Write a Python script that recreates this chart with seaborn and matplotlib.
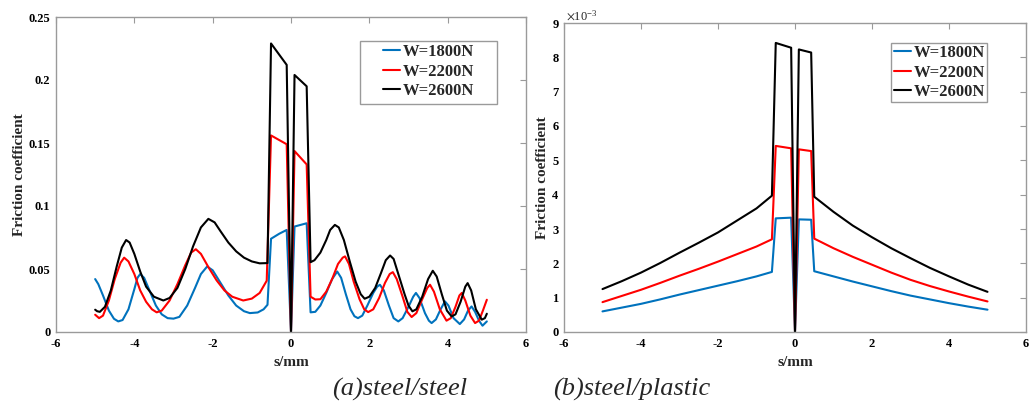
import matplotlib
matplotlib.use("Agg")
import matplotlib.pyplot as plt
from matplotlib.patches import Rectangle
import seaborn as sns
import pandas as pd

# ---------------- data: panel (a) steel/steel ----------------
labels = ["W=1800N", "W=2200N", "W=2600N"]
colors = ["#0072BD", "#FF0000", "#000000"]

a_x_1800 = [-5.0, -4.92, -4.8, -4.65, -4.52, -4.41, -4.3, -4.15, -4.0, -3.92, -3.85, -3.75, -3.6, -3.45,
            -3.3, -3.15, -3.0, -2.85, -2.65, -2.45, -2.3, -2.14, -2.0, -1.8, -1.6, -1.4, -1.2, -1.05,
            -0.85, -0.7, -0.6, -0.51, -0.3, -0.11, 0.0, 0.09, 0.4, 0.5, 0.62, 0.75, 0.9, 1.05, 1.18,
            1.28, 1.4, 1.52, 1.62, 1.71, 1.82, 1.95, 2.1, 2.2, 2.27, 2.37, 2.5, 2.62, 2.74, 2.85, 3.0,
            3.12, 3.19, 3.28, 3.42, 3.52, 3.59, 3.7, 3.82, 3.93, 4.02, 4.15, 4.31, 4.42, 4.52, 4.61,
            4.7, 4.8, 4.89, 5.0]
a_y_1800 = [0.042, 0.038, 0.029, 0.017, 0.0105, 0.0084, 0.0095, 0.018, 0.034, 0.043, 0.046, 0.043, 0.032,
            0.021, 0.014, 0.011, 0.0106, 0.012, 0.021, 0.035, 0.046, 0.052, 0.049, 0.039, 0.029, 0.021,
            0.0165, 0.015, 0.0155, 0.018, 0.0216, 0.074, 0.078, 0.081, 0.0, 0.0837, 0.0863, 0.0156,
            0.016, 0.021, 0.031, 0.042, 0.048, 0.043, 0.030, 0.018, 0.0125, 0.011, 0.013, 0.021, 0.031,
            0.036, 0.0375, 0.033, 0.021, 0.011, 0.0084, 0.011, 0.020, 0.028, 0.031, 0.027, 0.015,
            0.009, 0.0071, 0.010, 0.018, 0.0243, 0.021, 0.011, 0.0063, 0.010, 0.017, 0.0203, 0.016,
            0.009, 0.005, 0.0084]

a_x_2200 = [-5.0, -4.9, -4.8, -4.65, -4.5, -4.35, -4.26, -4.15, -4.0, -3.85, -3.7, -3.55, -3.43, -3.3,
            -3.1, -2.9, -2.7, -2.55, -2.43, -2.3, -2.1, -1.9, -1.7, -1.5, -1.22, -1.0, -0.8, -0.62,
            -0.51, -0.11, 0.0, 0.09, 0.4, 0.5, 0.62, 0.75, 0.9, 1.05, 1.2, 1.32, 1.38, 1.48, 1.6,
            1.75, 1.87, 1.97, 2.1, 2.25, 2.4, 2.52, 2.6, 2.7, 2.85, 2.97, 3.08, 3.2, 3.35, 3.48, 3.55,
            3.65, 3.8, 3.97, 4.08, 4.2, 4.3, 4.36, 4.45, 4.58, 4.7, 4.8, 4.9, 5.0]
a_y_2200 = [0.0137, 0.011, 0.013, 0.025, 0.042, 0.055, 0.059, 0.056, 0.046, 0.033, 0.024, 0.018, 0.0156,
            0.017, 0.025, 0.038, 0.053, 0.063, 0.0657, 0.062, 0.051, 0.041, 0.033, 0.028, 0.025,
            0.0265, 0.031, 0.0407, 0.156, 0.149, 0.0, 0.1436, 0.133, 0.028, 0.0258, 0.026, 0.032,
            0.042, 0.054, 0.059, 0.060, 0.054, 0.040, 0.026, 0.018, 0.0158, 0.018, 0.027, 0.039,
            0.046, 0.0475, 0.042, 0.028, 0.016, 0.0119, 0.015, 0.026, 0.035, 0.0375, 0.032, 0.018,
            0.009, 0.011, 0.020, 0.029, 0.031, 0.025, 0.013, 0.0071, 0.009, 0.017, 0.0256]

a_x_2600 = [-5.0, -4.95, -4.88, -4.75, -4.6, -4.45, -4.32, -4.21, -4.12, -4.0, -3.85, -3.7, -3.5, -3.26,
            -3.1, -2.9, -2.7, -2.5, -2.3, -2.11, -1.95, -1.8, -1.6, -1.4, -1.2, -1.0, -0.8, -0.6,
            -0.51, -0.11, 0.0, 0.09, 0.4, 0.5, 0.6, 0.75, 0.9, 1.0, 1.12, 1.22, 1.35, 1.5, 1.65, 1.78,
            1.88, 2.0, 2.15, 2.3, 2.42, 2.53, 2.62, 2.75, 2.9, 3.0, 3.1, 3.2, 3.35, 3.5, 3.62, 3.72,
            3.85, 3.98, 4.1, 4.2, 4.33, 4.45, 4.51, 4.6, 4.72, 4.87, 4.95, 5.0]
a_y_2600 = [0.0177, 0.0165, 0.016, 0.020, 0.033, 0.052, 0.067, 0.073, 0.071, 0.062, 0.048, 0.036, 0.028,
            0.025, 0.027, 0.035, 0.050, 0.068, 0.083, 0.0898, 0.087, 0.080, 0.071, 0.064, 0.059, 0.056,
            0.0545, 0.0547, 0.229, 0.212, 0.0, 0.204, 0.195, 0.0554, 0.057, 0.063, 0.073, 0.081, 0.085,
            0.083, 0.073, 0.056, 0.040, 0.030, 0.0264, 0.028, 0.035, 0.047, 0.057, 0.0607, 0.058,
            0.045, 0.030, 0.021, 0.0164, 0.018, 0.028, 0.042, 0.0486, 0.044, 0.030, 0.017, 0.0124,
            0.014, 0.024, 0.036, 0.0388, 0.033, 0.018, 0.0098, 0.011, 0.0145]

# ---------------- data: panel (b) steel/plastic (values in units of 1e-3) ----------------
b_x = [-5.0, -4.5, -4.0, -3.5, -3.0, -2.5, -2.0, -1.5, -1.0, -0.6, -0.5, -0.1, 0.0, 0.1, 0.42, 0.5,
       1.0, 1.5, 2.0, 2.5, 3.0, 3.5, 4.0, 4.5, 5.0]
b_y_1800 = [0.60, 0.71, 0.82, 0.95, 1.09, 1.22, 1.35, 1.48, 1.62, 1.75, 3.31, 3.33, 0.0, 3.28, 3.27,
            1.77, 1.62, 1.47, 1.33, 1.19, 1.06, 0.95, 0.84, 0.74, 0.65]
b_y_2200 = [0.87, 1.05, 1.23, 1.43, 1.64, 1.84, 2.05, 2.27, 2.49, 2.70, 5.42, 5.35, 0.0, 5.32, 5.27,
            2.72, 2.44, 2.19, 1.96, 1.73, 1.52, 1.34, 1.18, 1.03, 0.89]
b_y_2600 = [1.25, 1.48, 1.73, 2.01, 2.31, 2.60, 2.90, 3.25, 3.60, 3.97, 8.42, 8.28, 0.0, 8.23, 8.14,
            3.94, 3.50, 3.10, 2.76, 2.44, 2.15, 1.87, 1.62, 1.38, 1.17]

x_ticks = [-6, -4, -2, 0, 2, 4, 6]
a_y_ticks = [0, 0.05, 0.1, 0.15, 0.2, 0.25]
a_y_ticklabels = ["0", "0.05", "0.1", "0.15", "0.2", "0.25"]
b_y_ticks = [0, 1, 2, 3, 4, 5, 6, 7, 8, 9]

# ---------------- frames ----------------
df_a = pd.concat([
    pd.DataFrame({"s": a_x_1800, "mu": a_y_1800, "W": labels[0]}),
    pd.DataFrame({"s": a_x_2200, "mu": a_y_2200, "W": labels[1]}),
    pd.DataFrame({"s": a_x_2600, "mu": a_y_2600, "W": labels[2]}),
], ignore_index=True)
df_b = pd.concat([
    pd.DataFrame({"s": b_x, "mu": b_y_1800, "W": labels[0]}),
    pd.DataFrame({"s": b_x, "mu": b_y_2200, "W": labels[1]}),
    pd.DataFrame({"s": b_x, "mu": b_y_2600, "W": labels[2]}),
], ignore_index=True)

sns.set_style("white")
plt.rcParams["font.family"] = ["Liberation Serif", "DejaVu Serif"]
plt.rcParams["mathtext.fontset"] = "stix"

W, H = 1029, 408
fig = plt.figure(figsize=(W / 100, H / 100), dpi=100)
ax1 = fig.add_axes([56 / W, 1 - 332 / H, (526 - 56) / W, (332 - 17) / H])
ax2 = fig.add_axes([564 / W, 1 - 332 / H, (1026 - 564) / W, (332 - 23) / H])

pal = dict(zip(labels, colors))
GRAY = "#9a9a9a"
for ax, df in ((ax1, df_a), (ax2, df_b)):
    sns.lineplot(data=df, x="s", y="mu", hue="W", hue_order=labels, palette=pal,
                 estimator=None, sort=False, linewidth=1.5, ax=ax)
    ax.set_xlim(-6, 6)
    ax.set_xticks(x_ticks)
    ax.set_xticklabels([str(t) for t in x_ticks])
    for sp in ax.spines.values():
        sp.set_visible(True)
        sp.set_color(GRAY)
        sp.set_linewidth(1.0)
    ax.tick_params(direction="in", length=4, width=0.8, color=GRAY,
                   top=True, right=True, labelsize=9, labelcolor="black", pad=4)
    ax.set_xlabel("s/mm", fontsize=11, fontweight="bold", labelpad=5)
    ax.set_ylabel("Friction coefficient", fontsize=11, fontweight="bold", labelpad=2)

ax1.set_ylim(0, 0.25)
ax1.set_yticks(a_y_ticks)
ax1.set_yticklabels(a_y_ticklabels)
ax2.set_ylim(0, 9)
ax2.set_yticks(b_y_ticks)
ax2.set_yticklabels([str(t) for t in b_y_ticks])
for ax in (ax1, ax2):
    for lab in ax.get_xticklabels() + ax.get_yticklabels():
        lab.set_fontweight("bold")

# legends (frameless, with a separate box drawn round them)
legend_specs = [
    (ax1, (474 / W, 1 - 44 / H), (360, 41, 497, 104)),
    (ax2, (985 / W, 1 - 45 / H), (891, 43, 987, 102)),
]
for ax, anchor, (x0, y0, x1, y1) in legend_specs:
    leg = ax.legend(loc="upper right", prop={"weight": "bold", "size": 12},
                    frameon=False, handlelength=1.0, handletextpad=0.15,
                    borderpad=0.0, labelspacing=0.22, borderaxespad=0,
                    bbox_to_anchor=anchor, bbox_transform=fig.transFigure)
    fig.patches.append(Rectangle((x0 / W, 1 - y1 / H), (x1 - x0) / W, (y1 - y0) / H,
                                 transform=fig.transFigure, fill=False,
                                 edgecolor=GRAY, linewidth=1.0, zorder=10))

fig.text(566 / W, 1 - 16 / H, r"$\times\mathregular{10^{-3}}$", fontsize=9,
         ha="left", va="center")

fig.text(400 / W, 1 - 389 / H, "(a)steel/steel", fontsize=19, style="italic",
         ha="center", va="center")
fig.text(632 / W, 1 - 389 / H, "(b)steel/plastic", fontsize=19, style="italic",
         ha="center", va="center")

fig.savefig("out.png", dpi=100)
